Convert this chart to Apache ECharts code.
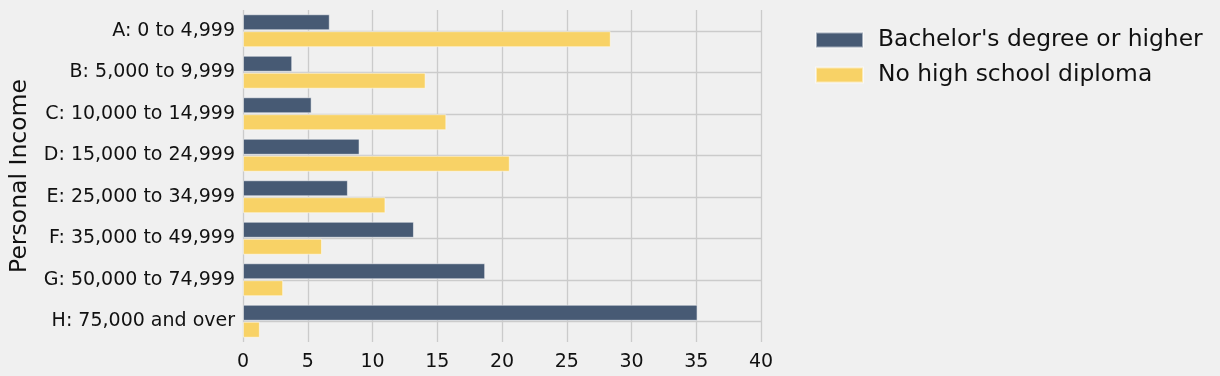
<!DOCTYPE html>
<html lang="en">
<head>
    <meta charset="UTF-8">
    <title>Personal Income</title>
    <script src="https://cdn.jsdelivr.net/npm/echarts@6/dist/echarts.min.js"></script>
    <style>
        html, body { margin: 0; padding: 0; background: #f0f0f0; }
        #charts { width: 1220px; height: 376px; }
    </style>
</head>
<body>
<div id="charts"></div>
<script>
    var categories = ['A: 0 to 4,999', 'B: 5,000 to 9,999', 'C: 10,000 to 14,999', 'D: 15,000 to 24,999',
        'E: 25,000 to 34,999', 'F: 35,000 to 49,999', 'G: 50,000 to 74,999', 'H: 75,000 and over'];
    var bachelor = [6.7, 3.8, 5.3, 9.0, 8.1, 13.2, 18.7, 35.1];
    var noDiploma = [28.4, 14.1, 15.7, 20.6, 11.0, 6.1, 3.1, 1.3];
    var seriesNames = ["Bachelor's degree or higher", 'No high school diploma'];

    var font = 'DejaVu Sans';
    var myChart = echarts.init(document.getElementById('charts'));

    var option = {
        backgroundColor: '#f0f0f0',
        animation: false,
        grid: {left: 243, right: 459, top: 10, bottom: 34},
        legend: {
            left: 810,
            top: 22,
            orient: 'vertical',
            icon: 'rect',
            itemWidth: 47,
            itemHeight: 15,
            itemGap: 9,
            textStyle: {fontFamily: font, fontSize: 23.4, color: '#111', lineHeight: 26, padding: [0, 0, 0, 10]},
            data: seriesNames
        },
        xAxis: {
            type: 'value',
            min: 0,
            max: 40,
            interval: 5,
            axisLine: {show: false},
            axisTick: {show: false},
            axisLabel: {fontFamily: font, fontSize: 19, color: '#111', margin: 11},
            splitLine: {lineStyle: {color: '#cbcbcb', width: 1.3}}
        },
        yAxis: {
            type: 'category',
            inverse: true,
            data: categories,
            name: 'Personal Income',
            nameLocation: 'middle',
            nameGap: 211,
            nameTextStyle: {fontFamily: font, fontSize: 23.5, color: '#111'},
            axisLine: {show: false},
            axisTick: {show: false},
            axisLabel: {fontFamily: font, fontSize: 19, color: '#111', margin: 8},
            splitLine: {show: true, alignWithLabel: true, lineStyle: {color: '#cbcbcb', width: 1.3}}
        },
        series: [
            {
                name: seriesNames[0],
                type: 'bar',
                barWidth: 16,
                barGap: '6%',
                itemStyle: {color: '#475a74', borderColor: 'rgba(255,255,255,0.5)', borderWidth: 1},
                data: bachelor
            },
            {
                name: seriesNames[1],
                type: 'bar',
                barWidth: 16,
                barGap: '6%',
                itemStyle: {color: '#f8d266', borderColor: 'rgba(255,255,255,0.5)', borderWidth: 1},
                data: noDiploma
            }
        ]
    };

    myChart.setOption(option);
</script>
</body>
</html>
